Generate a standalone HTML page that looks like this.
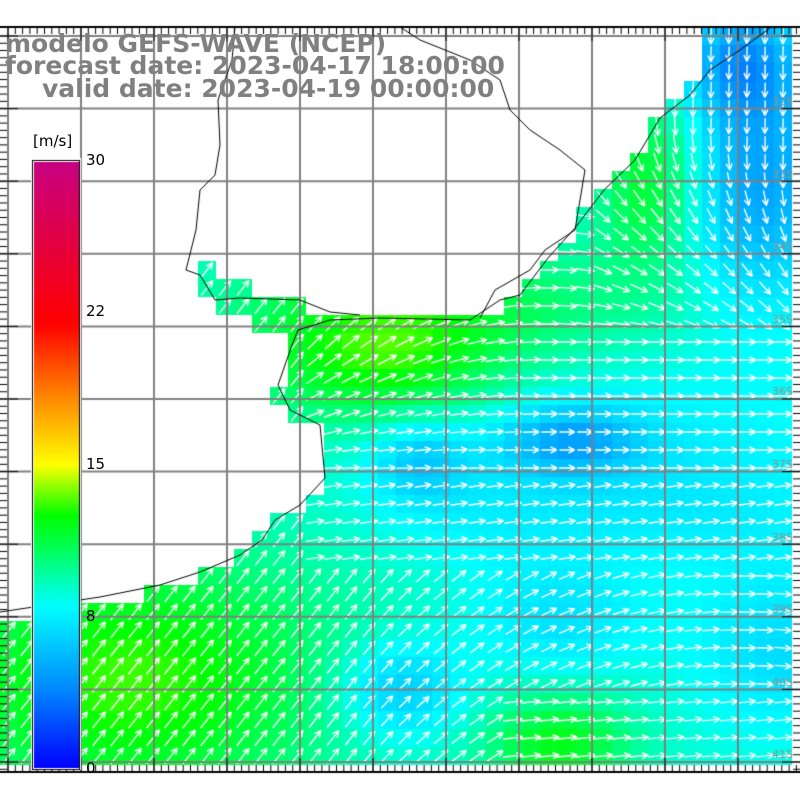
<!DOCTYPE html>
<html><head><meta charset="utf-8"><style>
html,body{margin:0;padding:0;background:#fff}
#w{position:relative;width:800px;height:800px;overflow:hidden;background:#fff}
canvas{position:absolute;left:0;top:0}
.t{position:absolute;font-family:"DejaVu Sans","Liberation Sans",sans-serif;font-weight:bold;font-size:25px;color:#808080;white-space:nowrap;line-height:1}
.l{position:absolute;font-family:"DejaVu Sans","Liberation Sans",sans-serif;font-size:15px;color:#000}
</style></head><body><div id="w">
<canvas id="c" width="800" height="800"></canvas>
<div class="t" style="left:5px;top:31px">modelo GEFS-WAVE (NCEP)</div>
<div class="t" style="left:5px;top:53px">forecast date: 2023-04-17 18:00:00</div>
<div class="t" style="left:42px;top:76px">valid date: 2023-04-19 00:00:00</div>
<div class="l" style="left:33px;top:132px">[m/s]</div>
<div class="l" style="left:86px;top:151px">30</div>
<div class="l" style="left:86px;top:302px">22</div>
<div class="l" style="left:86px;top:455px">15</div>
<div class="l" style="left:86px;top:607px">8</div>
<div class="l" style="left:86px;top:759px">0</div>
</div>
<script>
const c=document.getElementById('c').getContext('2d');
const T=27,B=772,R=800;
function cmap(v){
 const st=[[0,[0,0,255]],[4,[0,140,255]],[8,[0,255,255]],[11,[0,255,80]],[12.5,[0,255,0]],[15,[255,255,0]],[18.5,[255,130,0]],[22,[255,0,0]],[30,[200,0,130]]];
 v=Math.max(0,Math.min(30,v));
 for(let i=1;i<st.length;i++){if(v<=st[i][0]){const a=st[i-1],b=st[i],f=(v-a[0])/(b[0]-a[0]);return b[1].map((x,k)=>Math.round(a[1][k]+(x-a[1][k])*f));}}
 return st[st.length-1][1];
}
const sea=[[0,625],[20,615],[100,605],[160,590],[200,575],[240,555],[260,540],[275,520],[300,505],[325,480],[325,430],[290,420],[275,400],[280,375],[290,345],[260,330],[220,315],[205,292],[200,265],[220,265],[232,285],[300,300],[330,318],[370,318],[480,318],[520,295],[545,262],[570,232],[600,192],[630,162],[655,122],[680,98],[700,68],[708,40],[712,27],[800,27],[800,772],[0,772]];
function inPoly(x,y,p){let r=false;for(let i=0,j=p.length-1;i<p.length;j=i++){const[xi,yi]=p[i],[xj,yj]=p[j];if(((yi>y)!=(yj>y))&&(x<(xj-xi)*(y-yi)/(yj-yi)+xi))r=!r;}return r;}
const G=[[380,360,90,45,3.8],[130,680,140,90,4.3],[560,745,50,35,3.3],[650,180,35,60,3],[440,300,150,40,2],
[570,440,50,25,-3.2],[420,460,35,30,-2.5],[650,450,150,60,-1.2],[400,690,45,35,-3],[760,180,50,90,-4],[740,60,40,40,-3.5],[560,620,60,40,-1.8],[780,650,60,60,-2],[700,520,120,40,-0.8],[480,520,80,40,-0.8]];
function spd(x,y){let v=8.8;for(const[gx,gy,sx,sy,a]of G)v+=a*Math.exp(-((x-gx)**2/(2*sx*sx)+(y-gy)**2/(2*sy*sy)));return v;}
function ang(x,y){
 let a=-0.9;
 if(x>300&&y<560) a=-0.9+(x-300)/250*0.9;
 if(x>300&&y<560&&y>330) a=Math.min(a,0)*Math.max(0,(480-y)/150)+(y>480?-0.15:0);
 if(y<330&&x>600){a=0.3+Math.max(0,(330-y)/200)*1.2+(x-680)/300;}
 if(y>560&&x>350) a=-0.9+(x-350)/400*0.9;
 if(y>700&&x>500) a=-0.1;
 return Math.max(-1.1,Math.min(1.6,a));
}
const cs=18;
for(let y=T;y<B;y+=cs)for(let x=0;x<R;x+=cs){
 const cx=x+cs/2,cy=y+cs/2; if(!inPoly(cx,cy,sea))continue;
 const v=spd(cx,cy);const col=cmap(v);c.fillStyle=`rgb(${col})`;c.fillRect(x,y,cs,cs);
}
c.strokeStyle='#fff';c.lineWidth=1.4;
for(let y=T+9;y<B;y+=18)for(let x=9;x<R;x+=18){
 if(!inPoly(x,y,sea))continue;
 const a=ang(x,y),L=12+spd(x,y)*0.7;
 const dx=Math.cos(a)*L/2,dy=Math.sin(a)*L/2;
 c.beginPath();c.moveTo(x-dx,y-dy);c.lineTo(x+dx,y+dy);
 const hx=x+dx,hy=y+dy;
 c.moveTo(hx,hy);c.lineTo(hx-Math.cos(a-0.45)*7,hy-Math.sin(a-0.45)*7);
 c.moveTo(hx,hy);c.lineTo(hx-Math.cos(a+0.45)*7,hy-Math.sin(a+0.45)*7);
 c.stroke();
}
c.strokeStyle='#808080';c.lineWidth=2;
for(let x=8;x<R;x+=73){c.beginPath();c.moveTo(x,T);c.lineTo(x,B);c.stroke();}
for(let y=36;y<B;y+=72.6){c.beginPath();c.moveTo(0,y);c.lineTo(R,y);c.stroke();}
c.strokeStyle='#000';c.lineWidth=1;
c.beginPath();
const coast=[[0,612],[100,597],[160,585],[200,572],[240,555],[262,540],[275,520],[300,505],[325,478],[320,425],[290,410],[278,385],[292,345],[298,330],[330,320],[380,318],[470,320],[500,300],[520,295],[548,258],[575,228],[604,190],[635,160],[660,118],[690,95],[710,70],[740,50],[770,28]];
coast.forEach((p,i)=>i?c.lineTo(...p):c.moveTo(...p));c.stroke();
c.beginPath();
[[235,27],[232,60],[218,100],[220,145],[215,175],[200,190],[196,230],[186,270],[200,275],[215,300],[240,298],[300,300],[330,312],[360,315]].forEach((p,i)=>i?c.lineTo(...p):c.moveTo(...p));c.stroke();
c.beginPath();
[[480,318],[495,290],[530,270],[545,250],[575,230],[585,170],[560,150],[530,130],[510,110],[500,80],[470,60],[420,40],[400,27]].forEach((p,i)=>i?c.lineTo(...p):c.moveTo(...p));c.stroke();
c.strokeStyle='#000';c.lineWidth=2;c.beginPath();c.moveTo(0,T);c.lineTo(R,T);c.moveTo(0,B);c.lineTo(R,B);c.stroke();
c.lineWidth=1;
for(let x=8;x<R;x+=7.3){const big=Math.round((x-8)/7.3)%10==0;c.beginPath();c.moveTo(x,T);c.lineTo(x,T+(big?14:7));c.moveTo(x,B);c.lineTo(x,B-(big?14:7));c.stroke();}
for(let y=36;y<B;y+=7.26){const big=Math.round((y-36)/7.26)%10==0;c.beginPath();c.moveTo(0,y);c.lineTo(big?18:7,y);c.moveTo(R,y);c.lineTo(R-(big?18:7),y);c.stroke();}
const g=c.createLinearGradient(0,768,0,162);
[[0,[0,0,255]],[4,[0,140,255]],[8,[0,255,255]],[11,[0,255,80]],[12.5,[0,255,0]],[15,[255,255,0]],[18.5,[255,130,0]],[22,[255,0,0]],[30,[200,0,130]]].forEach(s=>g.addColorStop(s[0]/30,`rgb(${s[1]})`));
c.fillStyle='#fff';c.fillRect(31,158,50,612);
c.fillStyle=g;c.fillRect(34,162,45,606);
c.strokeStyle='#000';c.lineWidth=1;c.strokeRect(32.5,160.5,47,609);
c.fillStyle='#909090';c.font='11px "DejaVu Sans",sans-serif';
['32S','33S','34S','35S','36S','37S','38S','39S','40S','41S'].forEach((s,i)=>c.fillText(s,772,105+i*72.6));
</script></body></html>
